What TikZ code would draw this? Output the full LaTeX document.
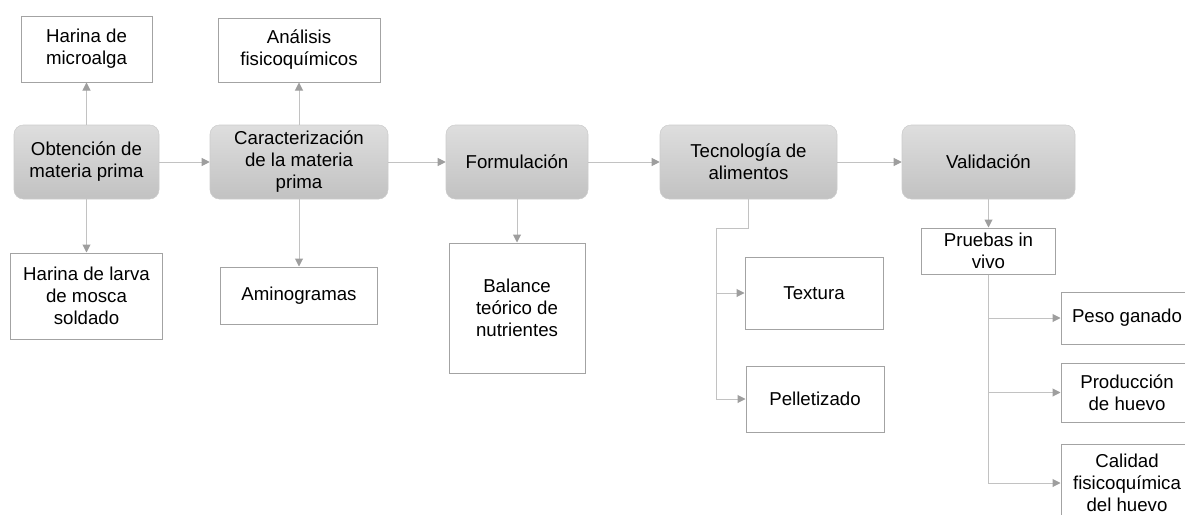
\documentclass[tikz,border=0pt]{standalone}
\usepackage{fontspec}
\setmainfont{Liberation Sans}
\usetikzlibrary{positioning,arrows.meta}

\begin{document}
\begin{tikzpicture}[
        x=0.75pt, y=-0.75pt,
        % define styles
        size/.style 2 args={
            minimum width=#1*0.75pt,
            minimum height=#2*0.75pt
        },
        step box/.style={
            draw=black!20,
            rounded corners=7pt,
            top color=black!13,
            bottom color=black!24,
            inner sep=0pt,
            align=center,
            font=\fontsize{14}{16.5}\selectfont
        },
        item/.style={
            draw=black!36,
            line width=0.75pt,
            fill=white,
            inner sep=0pt,
            align=center,
            font=\fontsize{14}{16.5}\selectfont
        },
        conn/.style={
            draw=black!24,
            line width=0.75pt
        },
        >={Triangle[length=6pt,width=6pt,color=black!38]}
    ]
    \useasboundingbox (0,0) rectangle (1185,514);
    \clip (0,0) rectangle (1185,514);

    % main steps
    \node[step box, size={145}{74}] (obt)  at (86.5,162)  {Obtención de\\materia prima};
    \node[step box, size={178}{74}] (car)  at (299,162)   {Caracterización\\de la materia\\prima};
    \node[step box, size={142}{74}] (form) at (517,162)   {Formulación};
    \node[step box, size={177}{74}] (tec)  at (748.5,162) {Tecnología de\\alimentos};
    \node[step box, size={173}{74}] (val)  at (988.5,162) {Validación};

    % boxes above and below the steps
    \node[item, size={131}{66}]  (hmic) at (86.5,49)   {Harina de\\microalga};
    \node[item, size={152}{86}]  (hlar) at (86.5,296)  {Harina de larva\\de mosca\\soldado};
    \node[item, size={162}{64}]  (ana)  at (299,50)    {Análisis\\fisicoquímicos};
    \node[item, size={157}{57}]  (ami)  at (299,295.5) {Aminogramas};
    \node[item, size={136}{130}] (bal)  at (517,308)   {Balance\\teórico de\\nutrientes};
    \node[item, size={138}{72}]  (tex)  at (814,293)   {Textura};
    \node[item, size={138}{66}]  (pel)  at (815,399)   {Pelletizado};
    \node[item, size={134}{46}]  (pru)  at (988.5,251) {Pruebas in\\vivo};

    % results of Pruebas in vivo
    \node[item, size={132}{52}] (peso) at (1127,318)   {Peso ganado};
    \node[item, size={132}{59}] (prod) at (1127,392.5) {Producción\\de huevo};
    \node[item, size={132}{78}] (cal)  at (1127,483)   {Calidad\\fisicoquímica\\del huevo};

    %lines along the main steps
    \foreach \a/\b in {obt/car,car/form,form/tec,tec/val}
        \draw[conn,->] (\a) -- (\b);

    %lines up and down from the steps
    \foreach \a/\b in {obt/hmic,obt/hlar,car/ana,car/ami,form/bal,val/pru}
        \draw[conn,->] (\a) -- (\b);

    %lines from Tecnología de alimentos
    \coordinate (tbend) at (716,228);
    \draw[conn,->] (tec.south) |- (tbend) |- (tex.west);
    \draw[conn,->] (tbend) |- (pel.west);

    %lines from Pruebas in vivo to each result
    \foreach \res in {peso,prod,cal}
        \draw[conn,->] (pru.south) |- (\res.west);

\end{tikzpicture}
\end{document}
